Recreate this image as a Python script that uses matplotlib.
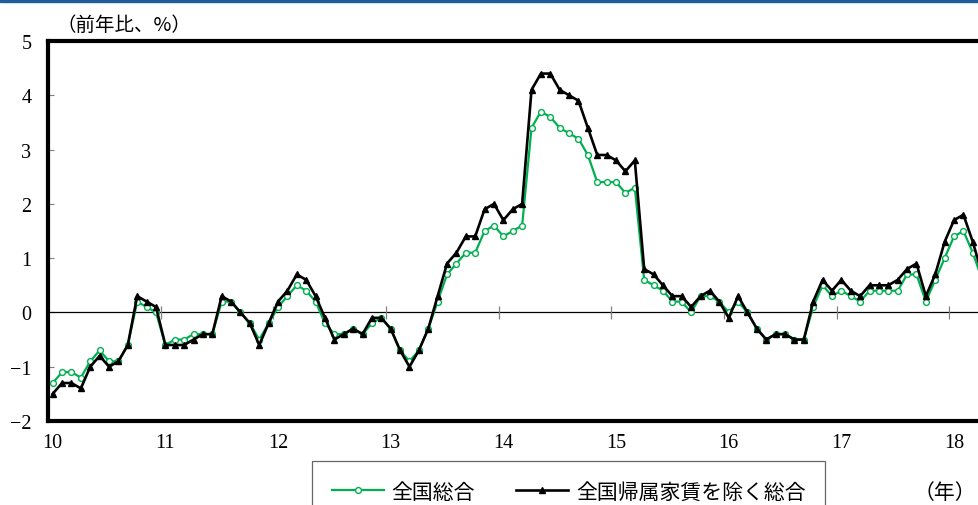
import numpy as np
import matplotlib
matplotlib.use("Agg")
import matplotlib.pyplot as plt
from matplotlib.patches import Rectangle

# 前年比 (%), 2010年1月〜2018年4月
cpi_total = [
    -1.3, -1.1, -1.1, -1.2, -0.9, -0.7, -0.9, -0.9, -0.6, 0.2, 0.1, 0.0,
    -0.6, -0.5, -0.5, -0.4, -0.4, -0.4, 0.2, 0.2, 0.0, -0.2, -0.5, -0.2,
    0.1, 0.3, 0.5, 0.4, 0.2, -0.2, -0.4, -0.4, -0.3, -0.4, -0.2, -0.1,
    -0.3, -0.7, -0.9, -0.7, -0.3, 0.2, 0.7, 0.9, 1.1, 1.1, 1.5, 1.6,
    1.4, 1.5, 1.6, 3.4, 3.7, 3.6, 3.4, 3.3, 3.2, 2.9, 2.4, 2.4,
    2.4, 2.2, 2.3, 0.6, 0.5, 0.4, 0.2, 0.2, 0.0, 0.3, 0.3, 0.2,
    0.0, 0.2, 0.0, -0.3, -0.5, -0.4, -0.4, -0.5, -0.5, 0.1, 0.5, 0.3,
    0.4, 0.3, 0.2, 0.4, 0.4, 0.4, 0.4, 0.7, 0.7, 0.2, 0.6, 1.0,
    1.4, 1.5, 1.1, 0.6,
]
cpi_ex_rent = [
    -1.5, -1.3, -1.3, -1.4, -1.0, -0.8, -1.0, -0.9, -0.6, 0.3, 0.2, 0.1,
    -0.6, -0.6, -0.6, -0.5, -0.4, -0.4, 0.3, 0.2, 0.0, -0.2, -0.6, -0.2,
    0.2, 0.4, 0.7, 0.6, 0.3, -0.1, -0.5, -0.4, -0.3, -0.4, -0.1, -0.1,
    -0.3, -0.7, -1.0, -0.7, -0.3, 0.3, 0.9, 1.1, 1.4, 1.4, 1.9, 2.0,
    1.7, 1.9, 2.0, 4.1, 4.4, 4.4, 4.1, 4.0, 3.9, 3.4, 2.9, 2.9,
    2.8, 2.6, 2.8, 0.8, 0.7, 0.5, 0.3, 0.3, 0.1, 0.3, 0.4, 0.2,
    -0.1, 0.3, 0.0, -0.3, -0.5, -0.4, -0.4, -0.5, -0.5, 0.2, 0.6, 0.4,
    0.6, 0.4, 0.3, 0.5, 0.5, 0.5, 0.6, 0.8, 0.9, 0.3, 0.7, 1.3,
    1.7, 1.8, 1.3, 0.7,
]
year_labels = ["10", "11", "12", "13", "14", "15", "16", "17", "18"]
y_ticks = [-2, -1, 0, 1, 2, 3, 4, 5]

GREEN = "#00b050"
JP = ["Noto Sans CJK JP", "DejaVu Sans"]

plt.rcParams["font.family"] = ["Liberation Serif", "Noto Sans CJK JP"]
plt.rcParams["axes.unicode_minus"] = True

months = np.arange(len(cpi_total))
year_starts = np.arange(len(year_labels)) * 12

fig = plt.figure(figsize=(9.79, 5.06), dpi=100)
# axes runs past the right edge, like the cropped original
ax = fig.add_axes([48 / 979, 84 / 506, 1014 / 979, 380 / 506])

ax.plot(months, cpi_total, color=GREEN, lw=1.6, marker="o", ms=4.2,
        mfc="white", mec=GREEN, mew=1.0, label="全国総合", zorder=3)
ax.plot(months, cpi_ex_rent, color="black", lw=1.9, marker="^", ms=4.8,
        mfc="black", mec="black", label="全国帰属家賃を除く総合", zorder=4)

ax.axhline(0, color="black", lw=0.9, zorder=2)
# year boundary ticks on the zero line
ax.vlines(year_starts[1:] - 0.5, -0.12, 0.12, color="#808080", lw=0.9, zorder=2)

ax.set_xlim(-0.5, 107.5)
ax.set_ylim(-2, 5)
ax.set_yticks(y_ticks)
ax.set_yticklabels([f"{v:d}".replace("-", "\u2212") for v in y_ticks])
ax.set_xticks(year_starts)
ax.set_xticklabels(year_labels)
ax.tick_params(axis="y", direction="in", length=4, width=0.8, color="#808080",
               labelsize=14.5, pad=12)
ax.tick_params(axis="x", length=0, labelsize=14.5, pad=9)

for side in ["left", "top", "bottom"]:
    ax.spines[side].set_linewidth(3.0)
ax.spines["right"].set_visible(False)

fig.text(56 / 979, 1 - 25 / 506, "（前年比、%）", family=JP, fontsize=14,
         va="center", ha="left")
fig.text(945 / 979, 1 - 493 / 506, "（年）", family=JP, fontsize=15,
         va="center", ha="center")

leg = fig.legend(loc="upper left", bbox_to_anchor=(312 / 979, 1 - 462 / 506),
                 ncol=2, frameon=True, fancybox=False, edgecolor="#404040",
                 prop={"family": JP, "size": 15}, handlelength=2.5,
                 handletextpad=0.35, columnspacing=2.0, borderpad=0.95,
                 borderaxespad=0)
leg.get_frame().set_linewidth(0.9)

fig.patches.append(Rectangle((0, 1 - 3 / 506), 1, 3 / 506, transform=fig.transFigure,
                             color="#1f5c99", zorder=10))

fig.savefig("out.png", dpi=100)
